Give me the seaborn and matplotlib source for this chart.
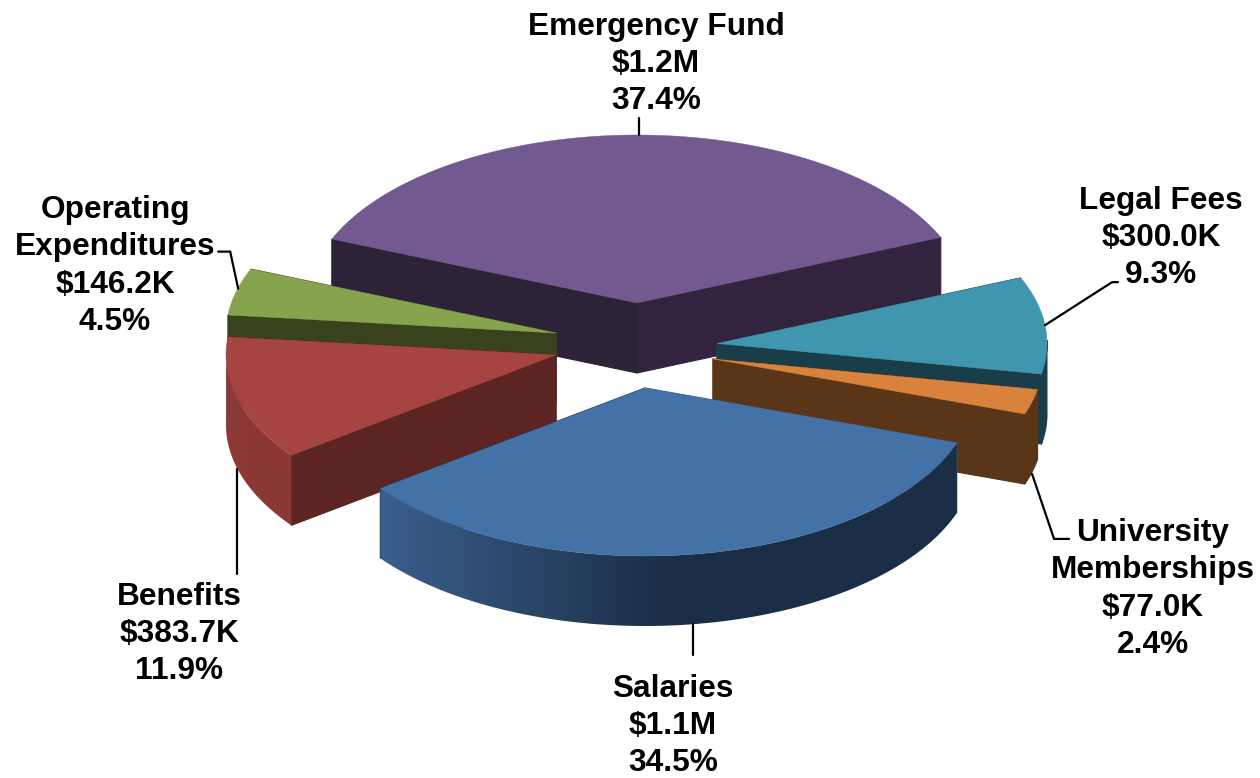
import numpy as np
import matplotlib
matplotlib.use("Agg")
import matplotlib.pyplot as plt
from matplotlib.colors import to_rgb, LinearSegmentedColormap
from matplotlib.patches import Polygon
import seaborn as sns

# ---- data ----
categories = ["Emergency Fund", "Operating\nExpenditures", "Benefits", "Salaries",
              "University\nMemberships", "Legal Fees"]
amounts = ["$1.2M", "$146.2K", "$383.7K", "$1.1M", "$77.0K", "$300.0K"]
shares = [37.4, 4.5, 11.9, 34.5, 2.4, 9.3]

# ---- styles ----
top_colors = ["#72598F", "#87A34D", "#A64441", "#4471A6", "#D9823B", "#3F96AE"]
face_colors = [("#2C2339", "#32233F"), ("#38431E", "#38431E"), ("#5C2423", "#5C2423"),
               ("#3A5F8C", "#1A2E47"), ("#5A3518", "#5A3518"), ("#193D49", "#193D49")]
wall_colors = [("#2C2339", "#32233F"), ("#38431E", "#38431E"), ("#8E3A37", "#8A3835"),
               ("#3A5F8C", "#1A2E47"), ("#5A3518", "#5A3518"), ("#193D49", "#193D49")]
apexes = [(637, 303), (556, 333), (556, 355), (645, 388), (713, 359), (717, 343.5)]
draw_order = [0, 5, 4, 1, 2, 3]
label_centers = [(656, 64), (115, 266), (179, 634), (673, 726), (1153, 589), (1161, 238)]
anchor_shifts = [(4, 0), (2, -3), (-1, 0), (-2, 0), (0, 2), (0, 0)]
leader_paths = [[(0, -17)], [(-8, -37), (-20, -37)], [(0, 105)], [(0, 31)],
                [(22, 65), (37, 65)], [(67, -43), (73, -43)]]

START_ANGLE = 23.0
RX, RY, DEPTH = 330.0, 168.0, 70.0

sns.set_theme(style="white")
plt.rcParams["font.family"] = ["Liberation Sans", "DejaVu Sans"]

fig = plt.figure(figsize=(12.6, 7.78), dpi=100)
ax = fig.add_axes([0, 0, 1, 1])
ax.axis("off")

shares_arr = np.array(shares)
spans = shares_arr / shares_arr.sum() * 360.0
starts = START_ANGLE + np.concatenate([[0], np.cumsum(spans)[:-1]])


def rim(apex, deg):
    rad = np.radians(deg)
    return apex[0] + RX * np.cos(rad), apex[1] - RY * np.sin(rad)


z = 1.0
for i in draw_order:
    apex, a0, a1 = apexes[i], starts[i], starts[i] + spans[i]
    angles = np.linspace(a0, a1, 160)
    px, py = rim(apex, angles)

    # radial cut faces
    for deg, col in ((a0, face_colors[i][1]), (a1, face_colors[i][0])):
        ex, ey = rim(apex, deg)
        ax.fill([apex[0], ex, ex, apex[0]],
                [apex[1], ey, ey + DEPTH, apex[1] + DEPTH],
                color=col, lw=0.8, zorder=z)

    # outer curved wall (only the front half faces the viewer)
    front = np.sin(np.radians(angles)) < 0.02
    if front.any():
        fx, fy = px[front], py[front]
        outline = np.column_stack([np.r_[fx, fx[::-1]], np.r_[fy, fy[::-1] + DEPTH]])
        c0, c1 = wall_colors[i]
        if c0 == c1:
            ax.fill(outline[:, 0], outline[:, 1], color=c0, lw=0.8, zorder=z)
        else:
            poly = Polygon(outline, closed=True, transform=ax.transData, fc="none", ec="none")
            ax.add_patch(poly)
            cmap = LinearSegmentedColormap.from_list(
                "wall", [to_rgb(c0), to_rgb(c1), to_rgb(c1)], N=256)
            grad = np.linspace(0, 1, 256)[None, :]
            im = ax.imshow(grad, cmap=cmap, vmin=0, vmax=1, aspect="auto",
                           interpolation="bilinear",
                           extent=(fx.min(), fx.max(), fy.max() + DEPTH, fy.min()), zorder=z)
            im.set_clip_path(poly)

    # top surface
    ax.fill(np.r_[apex[0], px], np.r_[apex[1], py], color=top_colors[i], lw=0.3, zorder=z)
    z += 0.1

# labels and leader lines
for i, (name, amount, share) in enumerate(zip(categories, amounts, shares)):
    apex = apexes[i]
    mid = starts[i] + spans[i] / 2
    sx, sy = rim(apex, mid)
    if np.sin(np.radians(mid)) < 0 and i != 5:
        sy += DEPTH
    sx += anchor_shifts[i][0]
    sy += anchor_shifts[i][1]
    xs, ys = [sx], [sy]
    for dx, dy in leader_paths[i]:
        xs.append(sx + dx)
        ys.append(sy + dy)
    ax.plot(xs, ys, color="black", lw=1.6, zorder=3, solid_joinstyle="miter")
    cx, cy = label_centers[i]
    ax.text(cx, cy, f"{name}\n{amount}\n{share:.1f}%", ha="center", va="center",
            fontsize=22.8, fontweight="bold", color="black", linespacing=1.32, zorder=4)

ax.set_xlim(0, 1260)
ax.set_ylim(778, 0)
fig.savefig("out.png", dpi=100, facecolor="white")
